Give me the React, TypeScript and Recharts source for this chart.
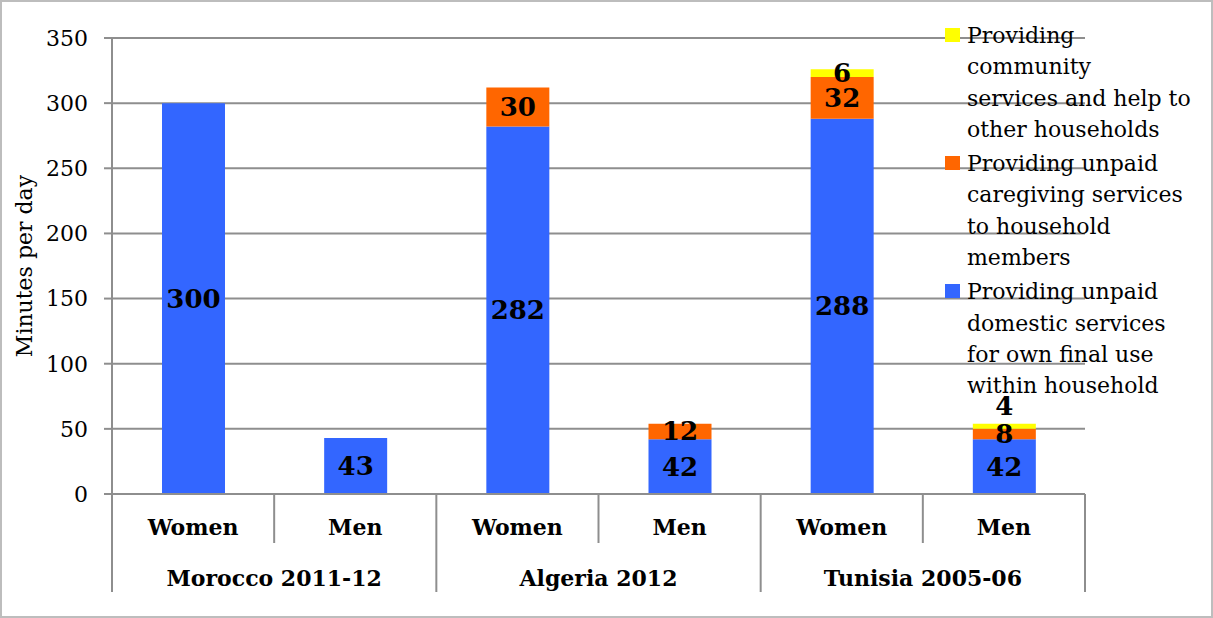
import React from 'react';
import { BarChart, Bar, XAxis, YAxis, CartesianGrid, LabelList } from 'recharts';

const genders = ['Women', 'Men', 'Women', 'Men', 'Women', 'Men'];
const countries = ['Morocco 2011-12', 'Morocco 2011-12', 'Algeria 2012', 'Algeria 2012', 'Tunisia 2005-06', 'Tunisia 2005-06'];
const domestic = [300, 43, 282, 42, 288, 42];
const caregiving = [0, 0, 30, 12, 32, 8];
const community = [0, 0, 0, 0, 6, 4];
const yTicks = [0, 50, 100, 150, 200, 250, 300, 350];

const series = [
  { key: 'domestic', color: '#3366ff', name: 'Providing unpaid\ndomestic services\nfor own final use\nwithin household' },
  { key: 'caregiving', color: '#ff6600', name: 'Providing unpaid\ncaregiving services\nto household\nmembers' },
  { key: 'community', color: '#ffff00', name: 'Providing\ncommunity\nservices and help to\nother households' },
];

const data = genders.map((g, i) => ({
  gender: g,
  country: countries[i],
  domestic: domestic[i],
  caregiving: caregiving[i] || null,
  community: community[i] || null,
}));

const W = 1213;
const H = 618;
const M = { top: 38, right: 128, bottom: 26, left: 0 };
const Y_AXIS_W = 112;
const BAND = (W - M.right - Y_AXIS_W) / genders.length;
const FONT = '"DejaVu Serif", serif';
const GRID = '#8e8e8e';

function GenderTick(props: any) {
  const { x, y, payload, index } = props;
  const left = x - BAND / 2;
  const right = x + BAND / 2;
  const isLast = index === genders.length - 1;
  return (
    <g>
      <line x1={left} x2={left} y1={y} y2={index % 2 === 0 ? y + 98 : y + 49} stroke={GRID} strokeWidth={2} />
      {isLast && <line x1={right} x2={right} y1={y} y2={y + 98} stroke={GRID} strokeWidth={2} />}
      <text x={x} y={y + 33} textAnchor="middle" dominantBaseline="central" fontFamily={FONT} fontWeight="bold" fontSize={22} fill="#000">
        {payload.value}
      </text>
    </g>
  );
}

function CountryTick(props: any) {
  const { x, y, payload, index } = props;
  if (index % 2 !== 0) return null;
  return (
    <text x={x + BAND / 2} y={y + 35} textAnchor="middle" dominantBaseline="central" fontFamily={FONT} fontWeight="bold" fontSize={22} fill="#000">
      {payload.value}
    </text>
  );
}

function SegLabel(props: any) {
  const { x, y, width, height, value } = props;
  if (!value) return null;
  let cy = y + height / 2;
  // the thinnest top segment gets its label lifted above the bar
  if (Math.abs(height) < 6) cy = y - 18;
  return (
    <text x={x + width / 2} y={cy} textAnchor="middle" dominantBaseline="central" fontFamily={FONT} fontWeight="bold" fontSize={26} fill="#000">
      {value}
    </text>
  );
}

function ChartLegend() {
  const items = [...series].reverse();
  return (
    <div style={{ position: 'absolute', left: 945, top: 20, width: 265, fontFamily: FONT, fontSize: 22, lineHeight: '31.3px', color: '#000' }}>
      {items.map((it) => (
        <div key={it.key} style={{ position: 'relative', paddingLeft: 22, marginBottom: 3, whiteSpace: 'pre-line' }}>
          <span style={{ position: 'absolute', left: 0, top: 8, width: 15, height: 14, background: it.color }} />
          {it.name}
        </div>
      ))}
    </div>
  );
}

export default function App() {
  return (
    <div style={{ position: 'absolute', left: 0, top: 0, width: W, height: H, background: '#fff', boxSizing: 'border-box', border: '2px solid #bdbdbd' }}>
      <div style={{ position: 'absolute', left: -2, top: -2 }}>
        <BarChart width={W} height={H} data={data} margin={M} barSize={63}>
          <CartesianGrid vertical={false} stroke={GRID} strokeWidth={2} />
          <XAxis dataKey="gender" xAxisId="a" height={49} tickLine={false} tickSize={0} tickMargin={0} axisLine={{ stroke: GRID, strokeWidth: 2 }} tick={<GenderTick />} interval={0} />
          <XAxis dataKey="country" xAxisId="b" height={49} tickLine={false} tickSize={0} tickMargin={0} axisLine={false} tick={<CountryTick />} interval={0} allowDuplicatedCategory />
          <YAxis
            width={Y_AXIS_W}
            domain={[0, 350]}
            ticks={yTicks}
            interval={0}
            tickSize={8}
            tickMargin={16}
            axisLine={{ stroke: GRID, strokeWidth: 2 }}
            tickLine={{ stroke: GRID, strokeWidth: 2 }}
            tick={{ fontFamily: FONT, fontSize: 22, fill: '#000' }}
            label={{ value: 'Minutes per day', angle: -90, position: 'insideLeft', offset: 24, style: { fontFamily: FONT, fontSize: 22, fill: '#000', textAnchor: 'middle' } }}
          />
          {series.map((s) => (
            <Bar key={s.key} dataKey={s.key} name={s.name} stackId="a" xAxisId="a" fill={s.color} isAnimationActive={false}>
              <LabelList dataKey={s.key} content={<SegLabel />} />
            </Bar>
          ))}
        </BarChart>
        <ChartLegend />
      </div>
    </div>
  );
}
